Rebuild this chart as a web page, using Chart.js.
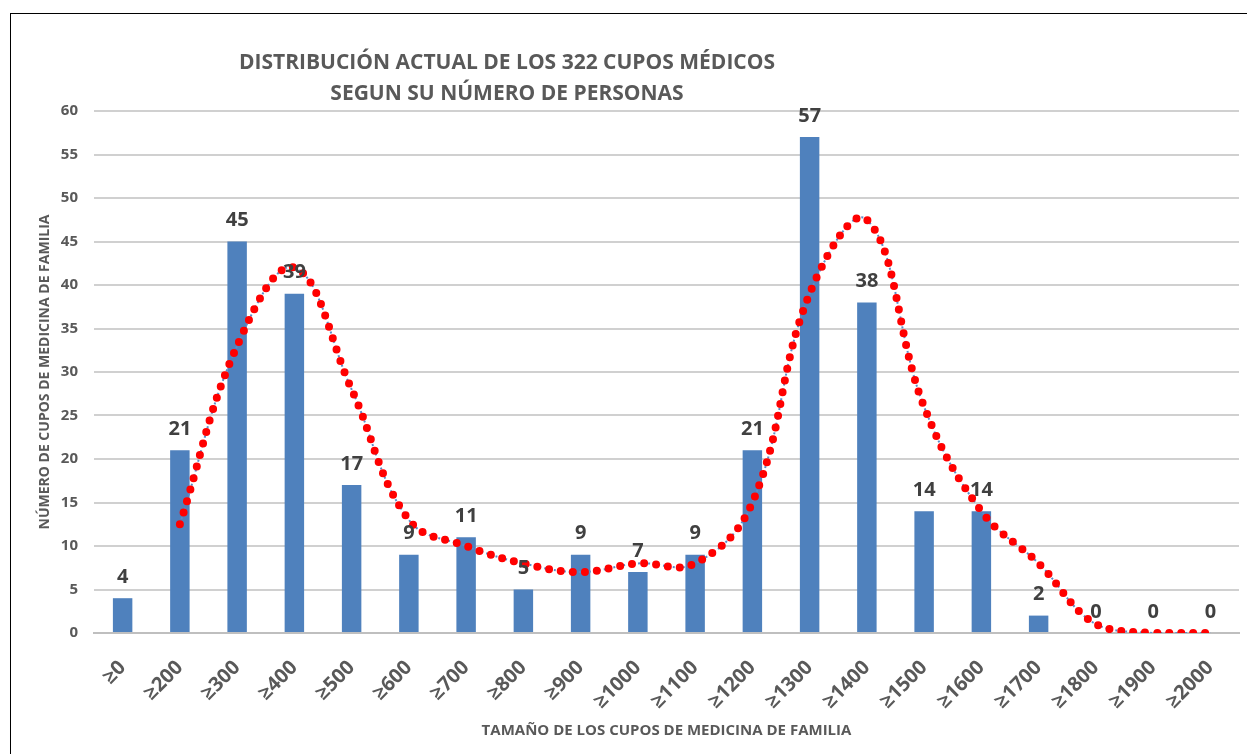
<!DOCTYPE html>
<html>
<head>
<meta charset="utf-8">
<script src="https://cdn.jsdelivr.net/npm/chart.js"></script>
<style>
  html, body { margin: 0; padding: 0; background: #fff; }
  #wrap { position: relative; width: 1247px; height: 754px; overflow: hidden; }
  #frame { position: absolute; left: 10px; top: 13px; width: 1260px; height: 780px;
           border: 1px solid #000; box-shadow: 3px 3px 3px #aaa; }
  #title { position: absolute; left: 157px; top: 46px; width: 700px; text-align: center;
           font: bold 21px "Open Sans", sans-serif; color: #595959; line-height: 31px; }
  canvas { position: absolute; left: 0; top: 0; }
</style>
</head>
<body>
<div id="wrap">
  <div id="frame"></div>
  <canvas id="myChart" width="1247" height="754"></canvas>
  <div id="title">DISTRIBUCIÓN ACTUAL DE LOS 322 CUPOS MÉDICOS<br>SEGUN SU NÚMERO DE PERSONAS</div>
</div>
<script>
const cupoLabels = ["≥0", "≥200", "≥300", "≥400", "≥500", "≥600", "≥700", "≥800", "≥900", "≥1000",
    "≥1100", "≥1200", "≥1300", "≥1400", "≥1500", "≥1600", "≥1700", "≥1800", "≥1900", "≥2000"];
const cupoCounts = [4, 21, 45, 39, 17, 9, 11, 5, 9, 7, 9, 21, 57, 38, 14, 14, 2, 0, 0, 0];
// trend line (none at the first category)
const trendValues = [null, 12.5, 33, 42, 28, 13, 10, 8, 7, 8, 8, 15, 39, 47.5, 26, 14, 8, 1, 0, 0];
const yTicks = [0, 5, 10, 15, 20, 25, 30, 35, 40, 45, 50, 55, 60];

const textGrey = '#595959';

const barLabels = {
    id: 'barLabels',
    afterDatasetsDraw(chart) {
        const ctx = chart.ctx;
        const meta = chart.getDatasetMeta(2);
        ctx.save();
        ctx.font = 'bold 20px "Open Sans", sans-serif';
        ctx.fillStyle = '#404040';
        ctx.textAlign = 'center';
        ctx.textBaseline = 'middle';
        meta.data.forEach((bar, i) => {
            ctx.fillText(cupoCounts[i], bar.x, bar.y - 21);
        });
        ctx.restore();
    }
};

const ctx = document.getElementById('myChart').getContext('2d');
new Chart(ctx, {
    type: 'bar',
    data: {
        labels: cupoLabels,
        datasets: [{
            type: 'line',
            label: 'tendencia',
            data: trendValues,
            borderColor: '#ff0000',
            borderWidth: 8,
            borderDash: [0, 12],
            borderCapStyle: 'round',
            pointRadius: 0,
            tension: 0.4,
            fill: false,
            order: 0
        }, {
            type: 'line',
            label: 'tendencia base',
            data: trendValues,
            borderColor: '#5b8cc8',
            borderWidth: 2,
            borderDash: [2, 3],
            pointRadius: 0,
            tension: 0.4,
            fill: false,
            order: 1
        }, {
            label: 'cupos',
            data: cupoCounts,
            backgroundColor: '#4f81bd',
            categoryPercentage: 1,
            barPercentage: 0.34,
            order: 2
        }]
    },
    options: {
        responsive: false,
        animation: false,
        layout: { padding: { left: 37, right: 8, top: 111, bottom: 14 } },
        plugins: {
            legend: { display: false },
            tooltip: { enabled: false }
        },
        scales: {
            x: {
                grid: { display: false },
                border: { color: '#bfbfbf', width: 2 },
                ticks: {
                    color: textGrey,
                    font: { family: 'Open Sans', size: 20, weight: 'bold' },
                    maxRotation: 45,
                    minRotation: 45,
                    padding: 15
                },
                title: {
                    display: true,
                    text: 'TAMAÑO DE LOS CUPOS DE MEDICINA DE FAMILIA',
                    color: textGrey,
                    font: { family: 'Open Sans', size: 15, weight: 'bold' },
                    padding: 0
                },
                afterFit(scale) { scale.height = 754 - 14 - 633; }
            },
            y: {
                min: 0,
                max: 60,
                afterBuildTicks(scale) { scale.ticks = yTicks.map(v => ({ value: v })); },
                grid: { color: '#d0d0d0', lineWidth: 2, drawTicks: false },
                border: { display: false },
                ticks: {
                    color: textGrey,
                    font: { family: 'Open Sans', size: 15, weight: 'bold' },
                    padding: 16
                },
                title: {
                    display: true,
                    text: 'NÚMERO DE CUPOS DE MEDICINA DE FAMILIA',
                    color: textGrey,
                    font: { family: 'Open Sans', size: 14, weight: 'bold' },
                    padding: 0
                },
                afterFit(scale) { scale.width = 94 - 37; }
            }
        }
    },
    plugins: [barLabels]
});
</script>
</body>
</html>
